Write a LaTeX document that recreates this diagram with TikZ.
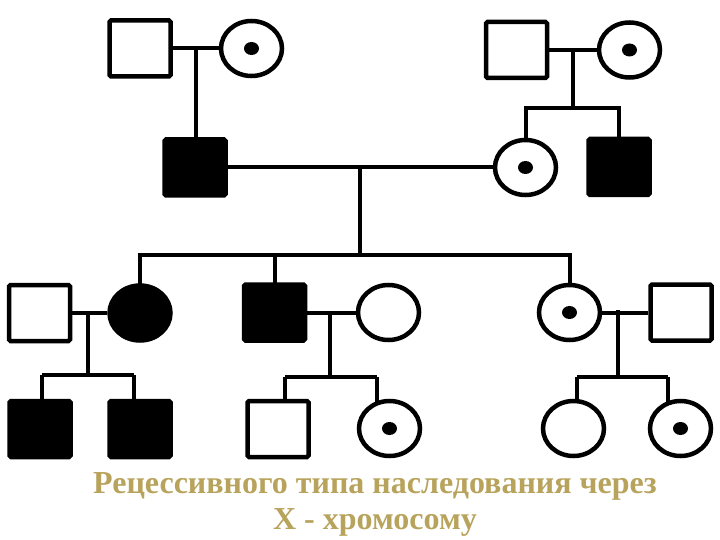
\documentclass[tikz,border=0pt]{standalone}
\usepackage{fontspec}
\setmainfont{Liberation Serif}
\usetikzlibrary{shapes.geometric,backgrounds}
\definecolor{gold}{RGB}{184,163,92}
\begin{document}
\begin{tikzpicture}[x=1pt,y=-1pt,
  male/.style={rectangle, draw, line width=4.5pt, minimum width=61pt, minimum height=56pt, rounded corners=1.5pt, fill=white, inner sep=0pt},
  female/.style={ellipse, draw, line width=4.5pt, minimum width=61pt, minimum height=55pt, fill=white, inner sep=0pt},
  aff/.style={fill=black},
  cdot/.style={ellipse, fill=black, minimum width=15pt, minimum height=13pt, inner sep=0pt},
  link/.style={line width=4pt},
  title/.style={font=\fontsize{32}{36}\selectfont\bfseries, text=gold, inner sep=0pt}]
\useasboundingbox (0,0) rectangle (720,540);
% generation I
\node[male] (m1) at (140,48.5) {};
\node[female] (f1) at (251.5,48.5) {};
\node[male] (m2) at (516.5,50) {};
\node[female] (f2) at (629.5,50) {};
% generation II
\node[male,aff] (m3) at (195,167.5) {};
\node[female] (f3) at (525.5,167.5) {};
\node[male,aff] (m4) at (619,167) {};
% generation III
\node[male] (m6) at (39.5,313) {};
\node[female,aff] (f4) at (140,313) {};
\node[male,aff] (m5) at (274.5,312.5) {};
\node[female] (f5) at (388.5,312.5) {};
\node[female] (f6) at (569.5,312.5) {};
\node[male] (m7) at (681,312.5) {};
% generation IV
\node[male,aff] (c1) at (40,429) {};
\node[male,aff] (c2) at (140,429) {};
\node[male] (c3) at (278,429) {};
\node[female] (c4) at (389.5,428.5) {};
\node[female] (c5) at (573.5,428.5) {};
\node[female] (c6) at (680.5,428.5) {};
% carrier dots
\node[cdot] (k1) at (f1) {};
\node[cdot] (k2) at (f2) {};
\node[cdot] (k3) at (f3) {};
\node[cdot] (k4) at (f6) {};
\node[cdot] (k5) at (c4) {};
\node[cdot] (k6) at (c6) {};
% junction coordinates
\coordinate (j1) at (196,48.5);
\coordinate (j2) at (573,50);
\coordinate (s2) at (573,108);
\coordinate (j3) at (360,167.5);
\coordinate (s3) at (360,255);
\coordinate (j4) at (88,313);
\coordinate (d1) at (42,375);
\coordinate (d2) at (134,375);
\coordinate (j5) at (330,312.5);
\coordinate (d3) at (285,377);
\coordinate (d4) at (377,377);
\coordinate (j6) at (618,310);
\coordinate (d5) at (577,377);
\coordinate (d6) at (668,377);
\begin{scope}[on background layer]
  \draw[link] (m1) -- (f1);
  \draw[link] (j1) -- (j1 |- m3.center);
  \draw[link] (m2) -- (f2);
  \draw[link] (j2) -- (s2);
  \draw[link] (f3.center) -- (f3.center |- s2) -- (m4.center |- s2) -- (m4.center);
  \draw[link] (m3) -- (f3);
  \draw[link] (j3) -- (s3);
  \draw[link] (f4.center) -- (f4.center |- s3) -- (f6.center |- s3) -- (f6.center);
  \draw[link] (m5.center |- s3) -- (m5.center);
  \draw[link] (m6) -- (f4);
  \draw[link] (j4) -- (j4 |- d1);
  \draw[link] (d1) -- (d2);
  \draw[link] (d1) -- (d1 |- c1.center);
  \draw[link] (d2) -- (d2 |- c2.center);
  \draw[link] (m5) -- (f5);
  \draw[link] (j5) -- (j5 |- d3);
  \draw[link] (d3) -- (d4);
  \draw[link] (d3) -- (d3 |- c3.center);
  \draw[link] (d4) -- (d4 |- c4.center);
  \draw[link] (f6) -- (m7);
  \draw[link] (j6) -- (j6 |- d5);
  \draw[link] (d5) -- (d6);
  \draw[link] (d5) -- (d5 |- c5.center);
  \draw[link] (d6) -- (d6 |- c6.center);
\end{scope}
% caption
\node[title] (t1) at (375,486) {Рецессивного типа наследования через};
\node[title] (t2) at (375,522) {X - хромосому};
\end{tikzpicture}
\end{document}
